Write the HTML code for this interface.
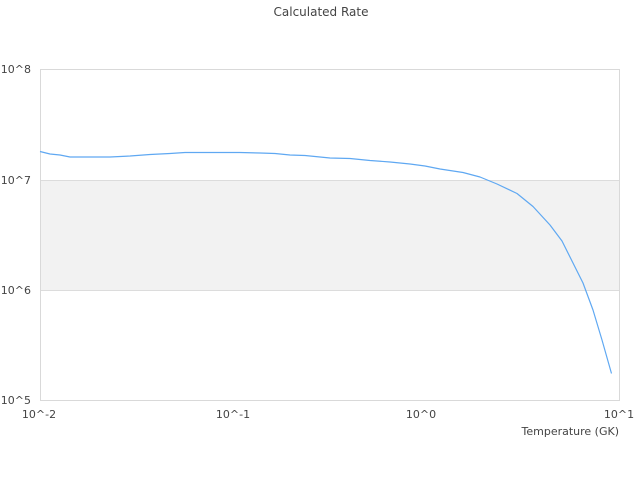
<!DOCTYPE html>
<html>
<head>
<meta charset="utf-8">
<style>
html,body{margin:0;padding:0;background:#fff;}
svg{display:block;}
text{font-family:"DejaVu Sans","Liberation Sans",sans-serif;fill:#444;}
</style>
</head>
<body>
<svg width="640" height="480" viewBox="0 0 640 480" xmlns="http://www.w3.org/2000/svg">
<rect x="0" y="0" width="640" height="480" fill="#fff"/>
<text x="321" y="16" font-size="12" text-anchor="middle" fill="#333">Calculated Rate</text>
<!-- band -->
<rect x="40" y="180" width="580" height="110" fill="#f2f2f2"/>
<!-- grid -->
<line x1="40" y1="180.5" x2="620" y2="180.5" stroke="#dcdcdc" stroke-width="1"/>
<line x1="40" y1="290.5" x2="620" y2="290.5" stroke="#dcdcdc" stroke-width="1"/>
<!-- border -->
<rect x="40.5" y="69.5" width="579" height="331" fill="none" stroke="#d9d9d9" stroke-width="1"/>
<!-- y labels -->
<text x="31" y="73" font-size="11" text-anchor="end">10^8</text>
<text x="31" y="184" font-size="11" text-anchor="end">10^7</text>
<text x="31" y="294" font-size="11" text-anchor="end">10^6</text>
<text x="31" y="404" font-size="11" text-anchor="end">10^5</text>
<!-- x labels -->
<text x="39" y="418" font-size="11" text-anchor="middle">10^-2</text>
<text x="233" y="418" font-size="11" text-anchor="middle">10^-1</text>
<text x="421" y="418" font-size="11" text-anchor="middle">10^0</text>
<text x="619" y="418" font-size="11" text-anchor="middle">10^1</text>
<text x="619" y="435" font-size="11" text-anchor="end">Temperature (GK)</text>
<!-- series -->
<polyline fill="none" stroke="#5fa8f2" stroke-width="1.2" stroke-linejoin="round"
points="40,151.5 50,154 60,155 70,157 90,157 110,157 130,156 150,154.5 170,153.5 185,152.5 210,152.5 240,152.5 260,153 275,153.5 290,155 305,155.5 330,158 350,158.5 370,160.5 390,162 410,164 425,166 440,169 463,172.5 480,177 497,184 517,193.5 533,206.5 550,225 562,241 572,261 583,283 593,310 602,340 611.5,373.5"/>
</svg>
</body>
</html>
